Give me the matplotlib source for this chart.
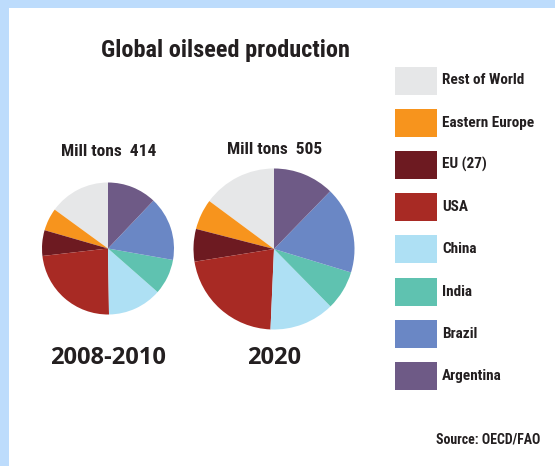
import matplotlib
matplotlib.use('Agg')
import matplotlib.pyplot as plt
from matplotlib.patches import Rectangle
from matplotlib import font_manager

# oilseed production by origin, million tons
regions = ['Rest of World', 'Eastern Europe', 'EU (27)', 'USA',
           'China', 'India', 'Brazil', 'Argentina']
colors = ['#e6e7e8', '#f7941d', '#6d1a21', '#a82a24',
          '#aee0f4', '#5fc2b0', '#6a87c5', '#6e5a86']
periods = ['2008-2010', '2020']
prod_2008_2010 = [62, 23, 26, 97, 55, 36, 65, 50]
prod_2020 = [75, 31, 33, 110, 66, 40, 88, 62]
totals = [414, 505]

W, H = 555, 466
DARK = '#231f20'

# pick the narrowest bold face available
names = {f.name for f in font_manager.fontManager.ttflist}
narrow = 'Roboto'
for cand in ['Roboto Condensed', 'Liberation Sans Narrow', 'Open Sans Condensed']:
    if cand in names:
        narrow = cand
        break

fig = plt.figure(figsize=(W / 100, H / 100), dpi=100)
ax = fig.add_axes([0, 0, 1, 1])


def y(v):
    # image rows are counted from the top
    return H - v


# pie radius grows with total production
px_per_mt = 66 / 414
centers = [(108, y(248.5)), (274, y(249))]
label_rows = [151.5, 150]
for data, total, period, c, lr in zip([prod_2008_2010, prod_2020], totals,
                                       periods, centers, label_rows):
    ax.pie(data, colors=colors, startangle=90, counterclock=True,
           center=c, radius=total * px_per_mt, wedgeprops=dict(linewidth=0),
           frame=True)
    ax.text(c[0] + 1, y(lr), 'Mill tons  %d' % total, ha='center', va='center',
            fontsize=12.5, fontweight='bold', family=narrow, color=DARK)
    ax.text(c[0], y(358), period, ha='center', va='center', fontsize=17,
            fontweight='bold', family='Open Sans', color=DARK)

ax.set_xlim(0, W)
ax.set_ylim(0, H)
ax.set_aspect('equal')
ax.axis('off')

# light blue frame on top and left
ax.add_patch(Rectangle((0, H - 7.5), W, 7.5, color='#bddcfc', lw=0))
ax.add_patch(Rectangle((0, 0), 9, H, color='#bddcfc', lw=0))

ax.text(225, y(51), 'Global oilseed production', ha='center', va='center',
        fontsize=17.5, fontweight='bold', family=narrow, color=DARK)

# legend
for i, (name, col) in enumerate(zip(regions, colors)):
    yc = 80.5 + 42.2 * i
    ax.add_patch(Rectangle((395, y(yc + 14)), 42, 28, color=col, lw=0))
    ax.text(442, y(yc), name, ha='left', va='center', fontsize=11,
            fontweight='bold', family=narrow, color=DARK)

ax.text(540, y(439), 'Source: OECD/FAO', ha='right', va='center', fontsize=10,
        fontweight='bold', family=narrow, color=DARK)

fig.savefig('out.png', dpi=100, facecolor='white')
